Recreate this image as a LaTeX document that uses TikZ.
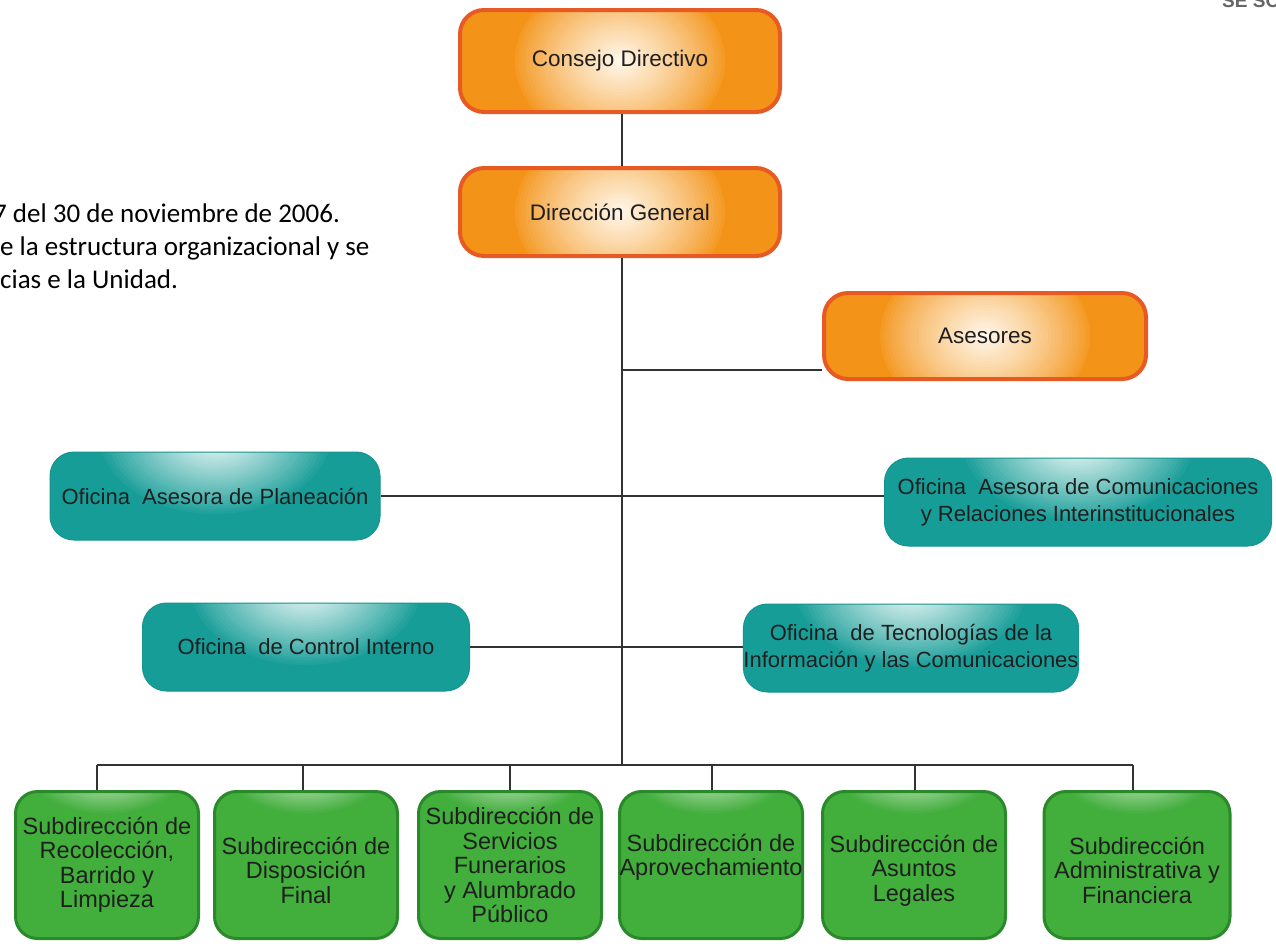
\documentclass[tikz,border=0pt]{standalone}
\usepackage{fontspec}
\setmainfont{Liberation Sans}
\newfontfamily\calibri{Carlito}
\usetikzlibrary{calc}
\definecolor{oMain}{HTML}{F39419}
\definecolor{oLight}{HTML}{FFF6E8}
\definecolor{oEdge}{HTML}{E85A24}
\definecolor{tMain}{HTML}{179D98}
\definecolor{tLight}{HTML}{F0F9F8}
\definecolor{tEdge}{HTML}{16948F}
\definecolor{gMain}{HTML}{42AE3C}
\definecolor{gLight}{HTML}{E6F4E2}
\definecolor{gEdge}{HTML}{2A892B}
\definecolor{lineC}{HTML}{333333}
% concentric-ellipse glow: #1 light colour, #2 base colour, #3 centre, #4 rx, #5 ry, #6 profile exponent
\newcommand{\myglow}[6]{%
  \foreach \k in {1,...,30}{%
    \pgfmathtruncatemacro{\pc}{100*(\k/30)^#6}%
    \pgfmathsetmacro{\sc}{1-(\k-1)/30}%
    \fill[#1!\pc!#2] (#3) ellipse ({#4*\sc} and {#5*\sc});%
  }}
\tikzset{
  orangebox/.style={rectangle, rounded corners=24pt, draw=oEdge, line width=4pt,
    fill=oMain, inner sep=0pt, align=center, text=black!88,
    font=\fontsize{22.5}{26}\selectfont,
    path picture={\myglow{oLight}{oMain}{path picture bounding box.center}{105pt}{85pt}{0.8}}},
  tealbox/.style={rectangle, rounded corners=24pt, draw=tEdge, line width=1pt,
    fill=tMain, inner sep=0pt, align=center, text=black!88,
    font=\fontsize{22}{27}\selectfont,
    path picture={\myglow{tLight}{tMain}{$(path picture bounding box.north)+(0,16pt)$}{115pt}{78pt}{0.9}}},
  greenbox/.style={rectangle, rounded corners=22pt, draw=gEdge, line width=3pt,
    fill=gMain, inner sep=0pt, align=center, text=black!88,
    minimum width=183pt, minimum height=147pt,
    font=\fontsize{23.5}{24.5}\selectfont,
    path picture={\myglow{gLight}{gMain}{$(path picture bounding box.north)+(0,22pt)$}{80pt}{45pt}{1.1}}},
  conn/.style={draw=lineC, line width=1.5pt},
  note/.style={anchor=base west, inner sep=0pt, font=\calibri\fontsize{27}{33}\selectfont},
}
\begin{document}
\begin{tikzpicture}[x=1pt,y=-1pt]
\useasboundingbox (0,0) rectangle (1276,943);
\clip (0,0) rectangle (1276,943);
\fill[white] (0,0) rectangle (1276,943);

% side texts
\node[note] (n1) at (-7,222) {7 del 30 de noviembre de 2006.};
\node[note] (n2) at (0,255) {e la estructura organizacional y se};
\node[note] (n3) at (0,288) {cias e la Unidad.};
\node[anchor=base west, inner sep=0pt, text=black!60, font=\fontsize{19}{19}\selectfont\bfseries] (n4) at (1222,7) {SE SOC};

% orange boxes
\node[orangebox, minimum width=320pt, minimum height=102pt] (cd) at (620,61) {Consejo Directivo};
\node[orangebox, minimum width=320pt, minimum height=88pt] (dg) at (620,212) {Direcci\'on General};
\node[orangebox, minimum width=322pt, minimum height=86pt] (as) at (985,336) {Asesores};

% teal boxes
\node[tealbox, minimum width=330pt, minimum height=88pt] (plan) at (215,496) {Oficina\ \ Asesora de Planeaci\'on};
\node[tealbox, minimum width=387pt, minimum height=88pt] (com) at (1078,502) {Oficina\ \ Asesora de Comunicaciones\\y Relaciones Interinstitucionales};
\node[tealbox, minimum width=327pt, minimum height=88pt] (ctrl) at (306,647) {Oficina\ \ de Control Interno};
\node[tealbox, minimum width=327pt, minimum height=88pt] (tec) at (911,648) {Oficina\ \ de Tecnolog\'ias de la\\Informaci\'on y las Comunicaciones};

% green boxes
\node[greenbox] (g1) at (107,865) {Subdirecci\'on de\\Recolecci\'on,\\Barrido y\\Limpieza};
\node[greenbox] (g2) at (306,865) {\rule{0pt}{28pt}Subdirecci\'on de\\Disposici\'on\\Final};
\node[greenbox] (g3) at (510,865) {Subdirecci\'on de\\Servicios\\Funerarios\\y Alumbrado\\P\'ublico};
\node[greenbox] (g4) at (711,865) {Subdirecci\'on de\\Aprovechamiento\rule[-20pt]{0pt}{1pt}};
\node[greenbox] (g5) at (914,865) {\rule{0pt}{28pt}Subdirecci\'on de\\Asuntos\\Legales};
\node[greenbox, minimum width=186pt] (g6) at (1137,865) {\rule{0pt}{28pt}Subdirecci\'on\\Administrativa y\\Financiera};

% connectors
\coordinate (trunk) at (622,0);
\coordinate (ja) at (622,370);
\coordinate (jb) at (622,765);
\coordinate (b1) at (97,765);
\coordinate (b2) at (303,765);
\coordinate (b3) at (510,765);
\coordinate (b4) at (712,765);
\coordinate (b5) at (915,765);
\coordinate (b6) at (1133,765);

\draw[conn] (trunk |- cd.south) -- (trunk |- dg.north);
\draw[conn] (trunk |- dg.south) -- (jb);
\draw[conn] (ja) -- (ja -| as.west);
\draw[conn] (plan.east) -- (plan.east -| com.west);
\draw[conn] (ctrl.east) -- (ctrl.east -| tec.west);
\draw[conn] (b1) -- (b6);
\draw[conn] (b1) -- (b1 |- g1.north);
\draw[conn] (b2) -- (b2 |- g2.north);
\draw[conn] (b3) -- (b3 |- g3.north);
\draw[conn] (b4) -- (b4 |- g4.north);
\draw[conn] (b5) -- (b5 |- g5.north);
\draw[conn] (b6) -- (b6 |- g6.north);
\end{tikzpicture}
\end{document}
